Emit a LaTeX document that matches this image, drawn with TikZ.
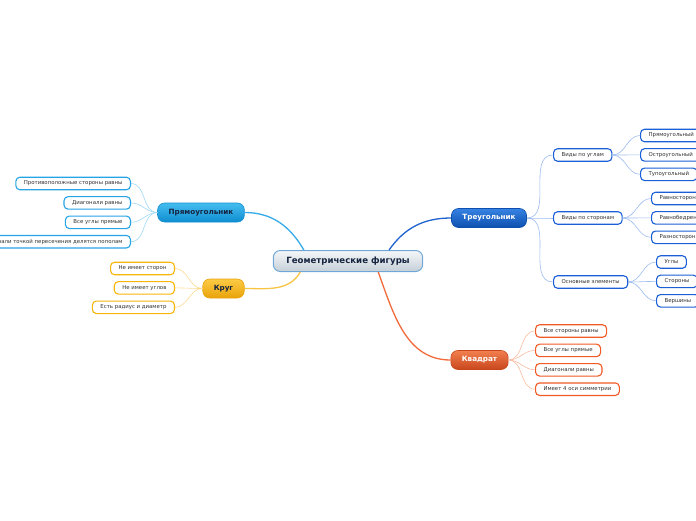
\documentclass[tikz,border=0pt]{standalone}
\usepackage{fontspec}
\setmainfont{DejaVu Sans}
\usepackage{tikz}
\usetikzlibrary{positioning}

\definecolor{rootline}{HTML}{6FA8D8}
\definecolor{rootlight}{HTML}{F5F7F9}
\definecolor{rootdark}{HTML}{C5CFD7}
\definecolor{roottext}{HTML}{14233F}
\definecolor{leaftext}{HTML}{333333}
\definecolor{rect}{HTML}{0E8DD0}
\definecolor{rectlight}{HTML}{45BDF0}
\definecolor{rectleaf}{HTML}{27A4E6}
\definecolor{rectpale}{HTML}{9FD8F5}
\definecolor{rectline}{HTML}{35ABE6}
\definecolor{circ}{HTML}{E9A30B}
\definecolor{circlight}{HTML}{FDCB45}
\definecolor{circleaf}{HTML}{F7B60A}
\definecolor{circpale}{HTML}{FCDA90}
\definecolor{circline}{HTML}{F8C445}
\definecolor{tri}{HTML}{0E4FAF}
\definecolor{trilight}{HTML}{3683E3}
\definecolor{trileaf}{HTML}{1A5FD6}
\definecolor{tripale}{HTML}{9CBCEE}
\definecolor{triline}{HTML}{1E63D0}
\definecolor{sq}{HTML}{C8461C}
\definecolor{sqlight}{HTML}{F2804F}
\definecolor{sqleaf}{HTML}{F05A24}
\definecolor{sqpale}{HTML}{F9BBA2}
\definecolor{sqline}{HTML}{F26A3A}

\begin{document}
\begin{tikzpicture}[
    x=1pt, y=1pt,
    node distance=5.8pt,
    every node/.style={font=\fontsize{5.4}{6.5}\selectfont, text=leaftext},
    root/.style={rectangle, draw=rootline, line width=1pt, top color=rootlight, bottom color=rootdark, minimum height=21pt, inner xsep=13pt, rounded corners=7pt, font=\bfseries\fontsize{8.6}{10}\selectfont, text=roottext},
    topic/.style={rectangle, draw=#1, line width=0.6pt, top color=#1light, bottom color=#1, minimum height=19pt, inner xsep=11pt, rounded corners=7pt, font=\bfseries\fontsize{7.2}{9}\selectfont, text=roottext},
    leaf/.style={rectangle, draw=#1, line width=1.1pt, fill=white, minimum height=12.5pt, inner xsep=8pt, inner ysep=0pt, rounded corners=4pt},
    link/.style={draw=#1, line width=1.3pt},
    twig/.style={draw=#1, line width=0.6pt}
]
\useasboundingbox (0,0) rectangle (696,-520);
\clip (0,0) rectangle (696,-520);

% centre and main topics
\node[root] (geo) at (348,-261) {Геометрические фигуры};
\node[topic=rect] (rect) at (201,-212.5) {Прямоугольник};
\node[topic=circ] (circ) at (223.5,-288.5) {Круг};
\node[topic=tri, text=white] (tri) at (489,-218) {Треугольник};
\node[topic=sq, text=white] (sq) at (479.5,-360) {Квадрат};

% Прямоугольник
\node[leaf=rectleaf, anchor=east] (rect1) at (131,-183.5) {Противоположные стороны равны};
\node[leaf=rectleaf, below=of rect1.south east, anchor=north east] (rect2) {Диагонали равны};
\node[leaf=rectleaf, below=of rect2.south east, anchor=north east] (rect3) {Все углы прямые};
\node[leaf=rectleaf, below=of rect3.south east, anchor=north east] (rect4) {Диагонали точкой пересечения делятся пополам};

% Круг
\node[leaf=circleaf, anchor=east] (circ1) at (175,-268.5) {Не имеет сторон};
\node[leaf=circleaf, below=of circ1.south east, anchor=north east] (circ2) {Не имеет углов};
\node[leaf=circleaf, below=of circ2.south east, anchor=north east] (circ3) {Есть радиус и диаметр};

% Треугольник
\node[leaf=trileaf, anchor=west] (angles) at (553,-155) {Виды по углам};
\node[leaf=trileaf, anchor=west] (sides) at (553,-218) {Виды по сторонам};
\node[leaf=trileaf, anchor=west] (parts) at (553,-282) {Основные элементы};
\node[leaf=trileaf, anchor=west] (ang1) at (640,-135.5) {Прямоугольный};
\node[leaf=trileaf, below=of ang1.south west, anchor=north west] (ang2) {Остроугольный};
\node[leaf=trileaf, below=of ang2.south west, anchor=north west] (ang3) {Тупоугольный};
\node[leaf=trileaf, anchor=west] (side1) at (651,-198.5) {Равносторонний};
\node[leaf=trileaf, below=of side1.south west, anchor=north west] (side2) {Равнобедренный};
\node[leaf=trileaf, below=of side2.south west, anchor=north west] (side3) {Разносторонний};
\node[leaf=trileaf, anchor=west] (part1) at (656,-262) {Углы};
\node[leaf=trileaf, below=of part1.south west, anchor=north west] (part2) {Стороны};
\node[leaf=trileaf, below=of part2.south west, anchor=north west] (part3) {Вершины};

% Квадрат
\node[leaf=sqleaf, anchor=west] (sq1) at (535,-331) {Все стороны равны};
\node[leaf=sqleaf, below=of sq1.south west, anchor=north west] (sq2) {Все углы прямые};
\node[leaf=sqleaf, below=of sq2.south west, anchor=north west] (sq3) {Диагонали равны};
\node[leaf=sqleaf, below=of sq3.south west, anchor=north west] (sq4) {Имеет 4 оси симметрии};

% main links
\draw[link=rectline] (geo.166) to[out=120, in=0] (rect.east);
\draw[link=circline] (geo.193) to[out=-120, in=0] (circ.east);
\draw[link=triline] (geo.15) to[out=55, in=180] (tri.west);
\draw[link=sqline] (geo.-20) to[out=-70, in=180] (sq.west);

% twigs
\draw[twig=rectpale] (rect.west) to[out=180, in=0] (rect1.east);
\draw[twig=rectpale] (rect.west) to[out=180, in=0] (rect2.east);
\draw[twig=rectpale] (rect.west) to[out=180, in=0] (rect3.east);
\draw[twig=rectpale] (rect.west) to[out=180, in=0] (rect4.east);
\draw[twig=circpale] (circ.west) to[out=180, in=0] (circ1.east);
\draw[twig=circpale] (circ.west) to[out=180, in=0] (circ2.east);
\draw[twig=circpale] (circ.west) to[out=180, in=0] (circ3.east);
\draw[twig=tripale] (tri.east) to[out=0, in=180] (angles.west);
\draw[twig=tripale] (tri.east) to[out=0, in=180] (sides.west);
\draw[twig=tripale] (tri.east) to[out=0, in=180] (parts.west);
\draw[twig=tripale] (angles.east) to[out=0, in=180] (ang1.west);
\draw[twig=tripale] (angles.east) to[out=0, in=180] (ang2.west);
\draw[twig=tripale] (angles.east) to[out=0, in=180] (ang3.west);
\draw[twig=tripale] (sides.east) to[out=0, in=180] (side1.west);
\draw[twig=tripale] (sides.east) to[out=0, in=180] (side2.west);
\draw[twig=tripale] (sides.east) to[out=0, in=180] (side3.west);
\draw[twig=tripale] (parts.east) to[out=0, in=180] (part1.west);
\draw[twig=tripale] (parts.east) to[out=0, in=180] (part2.west);
\draw[twig=tripale] (parts.east) to[out=0, in=180] (part3.west);
\draw[twig=sqpale] (sq.east) to[out=0, in=180] (sq1.west);
\draw[twig=sqpale] (sq.east) to[out=0, in=180] (sq2.west);
\draw[twig=sqpale] (sq.east) to[out=0, in=180] (sq3.west);
\draw[twig=sqpale] (sq.east) to[out=0, in=180] (sq4.west);
\end{tikzpicture}
\end{document}
